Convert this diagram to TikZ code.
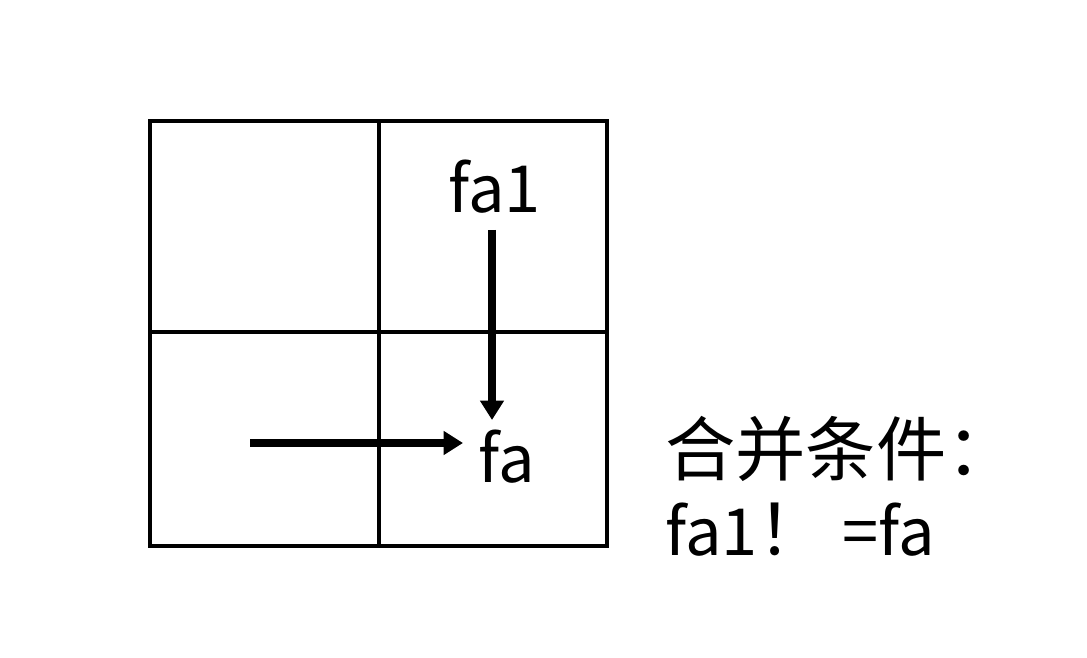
\documentclass[tikz,border=0pt]{standalone}
\usepackage{fontspec}
\newfontfamily\cjk{Noto Sans CJK SC}
\usetikzlibrary{arrows.meta}
\tikzset{
  gridline/.style={line width=1.9pt},
  arr/.style={line width=4.6pt,-{Triangle[length=11pt,width=13pt]}},
  lbl/.style={inner sep=0pt,anchor=base west,font=\cjk\fontsize{40}{48}\selectfont},
  small/.style={font=\cjk\fontsize{37}{44}\selectfont}
}
\begin{document}
\begin{tikzpicture}[x=0.02cm,y=-0.02cm]
    \useasboundingbox (0,0) rectangle (1087,658);
    \coordinate (cTL) at (150,121);
    \coordinate (cBR) at (607,546);
    \coordinate (cMid) at (379,332);
    \draw[gridline] (cTL) rectangle (cBR);
    \draw[gridline] (cTL -| cMid) -- (cBR -| cMid);
    \draw[gridline] (cTL |- cMid) -- (cBR |- cMid);
    \node[lbl,small] (fa1) at (448,213) {fa1};
    \node[lbl,small] (fa) at (478,482) {fa};
    \node[lbl] (cond1) at (665,475) {合并条件：};
    \node[lbl] (cond2) at (665,555) {{\fontsize{37}{44}\selectfont fa1}！{\fontsize{37}{44}\selectfont\ =fa}};
    \coordinate (vTop) at (492,230);
    \coordinate (vEnd) at (492,420);
    \coordinate (hStart) at (250,443);
    \coordinate (hEnd) at (463,443);
    \draw[arr] (vTop) -- (vEnd);
    \draw[arr] (hStart) -- (hEnd);
\end{tikzpicture}
\end{document}
